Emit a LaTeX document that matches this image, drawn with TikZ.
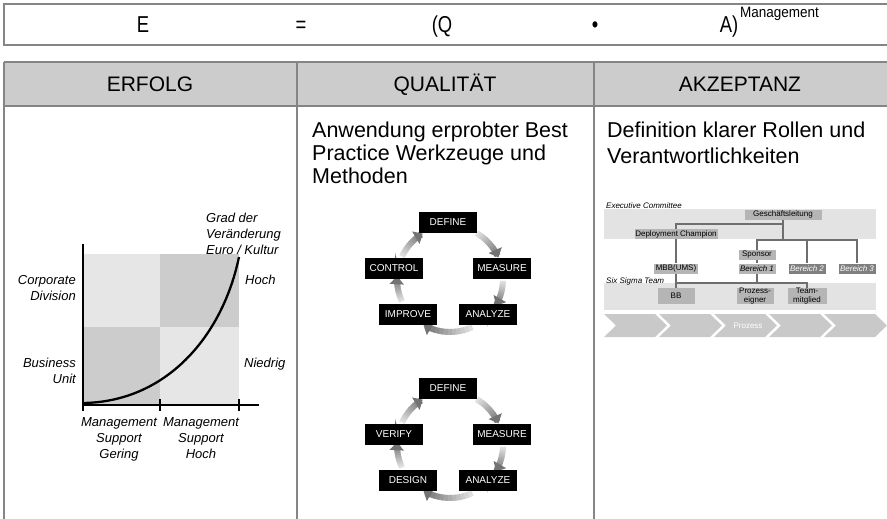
\documentclass[tikz,border=0pt]{standalone}
\usepackage{fontspec}
\setmainfont{Liberation Sans}
\usepackage{graphicx}
\usetikzlibrary{arrows.meta,calc}

\newcommand\fsize[2]{\fontsize{#1pt}{#2pt}\selectfont}
\newcommand\narrowtxt[1]{\scalebox{0.8}[1]{#1}}

\definecolor{rulegray}{HTML}{858585}
\definecolor{headfill}{HTML}{CCCCCC}
\definecolor{quadlight}{HTML}{E6E6E6}
\definecolor{quaddark}{HTML}{CCCCCC}
\definecolor{bandfill}{HTML}{E3E3E3}
\definecolor{orgfill}{HTML}{B5B5B5}
\definecolor{orgdark}{HTML}{7F7F7F}
\definecolor{orglinec}{HTML}{6E6E6E}
\definecolor{chevfill}{HTML}{C9C9C9}

\tikzset{
  rulestroke/.style={draw=rulegray, line width=1.6pt},
  formula/.style={anchor=base, inner sep=0pt, font=\fsize{23}{26}},
  headtxt/.style={anchor=base, inner sep=0pt, font=\fsize{21}{25}},
  bodytxt/.style={anchor=base west, inner sep=0pt, font=\fsize{21.5}{24}},
  chartlbl/.style={inner sep=0pt, font=\fsize{13}{16}\itshape},
  cyclebox/.style={fill=black, text=white, font=\fsize{10}{12},
    minimum width=58pt, minimum height=21pt, inner sep=0pt},
  orgbox/.style={fill=orgfill, font=\fsize{8}{9}, inner sep=0pt,
    minimum height=10pt, align=center},
  orgdarkbox/.style={orgbox, fill=orgdark, text=white, font=\fsize{8}{9}\itshape},
  orgline/.style={draw=orglinec, line width=1.2pt},
  orglbl/.style={anchor=base west, inner sep=0pt, font=\fsize{8}{9}\itshape},
}

% one arrow of a cycle: gray arc darkening towards its tip
% #1 centre, #2 radius, #3 start angle, #4 end angle
\newcommand\cyclearc[4]{%
  \foreach \k in {0,...,10}{%
    \pgfmathsetmacro\sa{#3+(#4-#3)*\k/12}%
    \pgfmathsetmacro\ea{#3+(#4-#3)*(\k+1.2)/12}%
    \pgfmathsetmacro\shd{12+40*\k/10}%
    \draw[line width=6pt, black!\shd] ($(#1)+(\sa:#2)$)
      arc[start angle=\sa, end angle=\ea, radius=#2];
  }%
  \pgfmathsetmacro\sa{#3+(#4-#3)*11/12}%
  \draw[line width=6pt, black!55, -{Triangle[length=8pt,width=14pt]}]
    ($(#1)+(\sa:#2)$) arc[start angle=\sa, end angle=#4, radius=#2];
}

\begin{document}
\begin{tikzpicture}[x=1pt, y=-1pt]
\useasboundingbox (0,0) rectangle (887,519);

% ---- formula bar ----
\draw[rulestroke] (895,4) -- (4,4) -- (4,45) -- (895,45);
\node[formula] (fE) at (143,33) {\narrowtxt{E}};
\node[formula] (fEq) at (301,33) {\narrowtxt{=}};
\node[formula] (fQ) at (442,33) {\narrowtxt{(Q}};
\node[formula] (fDot) at (595,33) {\narrowtxt{•}};
\node[formula] (fA) at (729,33) {\narrowtxt{A)}};
\node[anchor=base west, inner sep=0pt, font=\fsize{15}{16}] (fM) at (740,18) {\scalebox{0.9}[1]{Management}};

% ---- table frame ----
\fill[headfill] (4,62) rectangle (895,106);
\draw[rulestroke] (4,62) -- (895,62);
\draw[rulestroke] (4,106) -- (895,106);
\draw[rulestroke] (4,62) -- (4,525);
\draw[rulestroke] (297,62) -- (297,525);
\draw[rulestroke] (594,62) -- (594,525);

\node[headtxt] (hE) at (150,92) {ERFOLG};
\node[headtxt] (hQ) at (445,92) {QUALITÄT};
\node[headtxt] (hA) at (740,92) {AKZEPTANZ};

% ---- column texts ----
\node[bodytxt] (q1) at (312,137) {Anwendung erprobter Best};
\node[bodytxt] (q2) at (312,160) {Practice Werkzeuge und};
\node[bodytxt] (q3) at (312,183) {Methoden};
\node[bodytxt] (a1) at (607,137) {Definition klarer Rollen und};
\node[bodytxt] (a2) at (607,163) {Verantwortlichkeiten};

% ---- chart: success versus support ----
\fill[quadlight] (83,254) rectangle (160,327);
\fill[quaddark]  (160,254) rectangle (239,327);
\fill[quaddark]  (83,327) rectangle (160,405);
\fill[quadlight] (160,327) rectangle (239,405);
\coordinate (orig) at (83,405);
\coordinate (ytop) at (83,244);
\coordinate (xend) at (259,405);
\draw[line width=1.3pt] (ytop) -- (orig) -- (xend);
\foreach \tx in {83,160,239}{\draw[line width=1.3pt] (\tx,399) -- (\tx,411);}
\coordinate (cstart) at (83,403);
\coordinate (cend) at (239,257);
\draw[line width=2.3pt] (cstart) .. controls (165,402) and (222,338) .. (cend);

\node[chartlbl, anchor=base west] (gd1) at (206,222) {Grad der};
\node[chartlbl, anchor=base west] (gd2) at (206,238) {Veränderung};
\node[chartlbl, anchor=base west] (gd3) at (206,254) {Euro / Kultur};
\node[chartlbl, anchor=base east] (cd1) at (76,284) {Corporate};
\node[chartlbl, anchor=base east] (cd2) at (76,300) {Division};
\node[chartlbl, anchor=base west] (hoch) at (245,284) {Hoch};
\node[chartlbl, anchor=base east] (bu1) at (76,367) {Business};
\node[chartlbl, anchor=base east] (bu2) at (76,383) {Unit};
\node[chartlbl, anchor=base west] (nied) at (244,367) {Niedrig};
\node[chartlbl, anchor=base] (mg1) at (119,426) {Management};
\node[chartlbl, anchor=base] (mg2) at (119,442) {Support};
\node[chartlbl, anchor=base] (mg3) at (119,458) {Gering};
\node[chartlbl, anchor=base] (mh1) at (201,426) {Management};
\node[chartlbl, anchor=base] (mh2) at (201,442) {Support};
\node[chartlbl, anchor=base] (mh3) at (201,458) {Hoch};

% ---- DMAIC cycle ----
\coordinate (c1) at (450,279);
\cyclearc{c1}{53}{-60}{-24}
\cyclearc{c1}{53}{2}{30}
\cyclearc{c1}{53}{65}{120}
\cyclearc{c1}{53}{155}{183}
\cyclearc{c1}{53}{205}{239}
\node[cyclebox] (d1) at (448,222) {DEFINE};
\node[cyclebox] (m1) at (502,268) {MEASURE};
\node[cyclebox] (an1) at (488,314) {ANALYZE};
\node[cyclebox] (im1) at (408,314) {IMPROVE};
\node[cyclebox] (co1) at (394,268) {CONTROL};

% ---- DMADV cycle ----
\coordinate (c2) at (450,445);
\cyclearc{c2}{53}{-60}{-24}
\cyclearc{c2}{53}{2}{30}
\cyclearc{c2}{53}{65}{120}
\cyclearc{c2}{53}{155}{183}
\cyclearc{c2}{53}{205}{239}
\node[cyclebox] (d2) at (448,388) {DEFINE};
\node[cyclebox] (m2) at (502,434) {MEASURE};
\node[cyclebox] (an2) at (488,480) {ANALYZE};
\node[cyclebox] (de2) at (408,480) {DESIGN};
\node[cyclebox] (ve2) at (394,434) {VERIFY};

% ---- organisation chart ----
\fill[bandfill] (604,209) rectangle (876,239);
\fill[bandfill] (604,283) rectangle (876,310);
\node[orglbl] (exc) at (606,208) {Executive Committee};
\node[orglbl] (sst) at (606,283) {Six Sigma Team};

\coordinate (jA) at (783,224);
\coordinate (jB) at (783,240);
\coordinate (jC) at (0,283);

\node[orgbox, minimum width=77pt] (gl) at (783,214.5) {Geschäftsleitung};
\node[orgbox, minimum width=83pt] (dc) at (676,234) {Deployment Champion};
\node[orgbox, minimum width=37pt] (sp) at (757,255) {Sponsor};
\node[orgbox, minimum width=44pt] (mbb) at (676,268.5) {MBB(UMS)};
\node[orgbox, minimum width=37pt, font=\fsize{8}{9}\itshape] (b1) at (757,268.5) {Bereich 1};
\node[orgdarkbox, minimum width=37pt] (b2) at (807,268.5) {Bereich 2};
\node[orgdarkbox, minimum width=37pt] (b3) at (857,268.5) {Bereich 3};
\node[orgbox, minimum width=37pt, minimum height=16pt] (bb) at (676,296) {BB};
\node[orgbox, minimum width=37pt, minimum height=16pt] (pe) at (755,296) {Prozess-\\eigner};
\node[orgbox, minimum width=39pt, minimum height=16pt] (tm) at (807,296) {Team-\\mitglied};

\draw[orgline] (gl.south) -- (jB);
\draw[orgline] (jA) -| (dc.north);
\draw[orgline] (dc.south) -- (mbb.north);
\draw[orgline] (sp.north) |- (jB) -| (b3.north);
\draw[orgline] (b2.north |- jB) -- (b2.north);
\draw[orgline] (sp.south) -- (b1.north);
\draw[orgline] (mbb.south) -- (bb.north);
\draw[orgline] (b1.south) -- (b1.south |- jC);
\draw[orgline] (bb.north |- jC) -- (tm.north |- jC) -- (tm.north);

% process chevrons
\foreach \i in {0,...,4}{
  \pgfmathsetmacro\xo{604+55*\i}
  \fill[chevfill] (\xo,314) -- (\xo+51,314) -- (\xo+63,325.5) -- (\xo+51,337)
    -- (\xo,337) -- (\xo+12,325.5) -- cycle;
}
\node[inner sep=0pt, text=white, font=\fsize{8}{9}] (proz) at (748,326) {Prozess};

\end{tikzpicture}
\end{document}
